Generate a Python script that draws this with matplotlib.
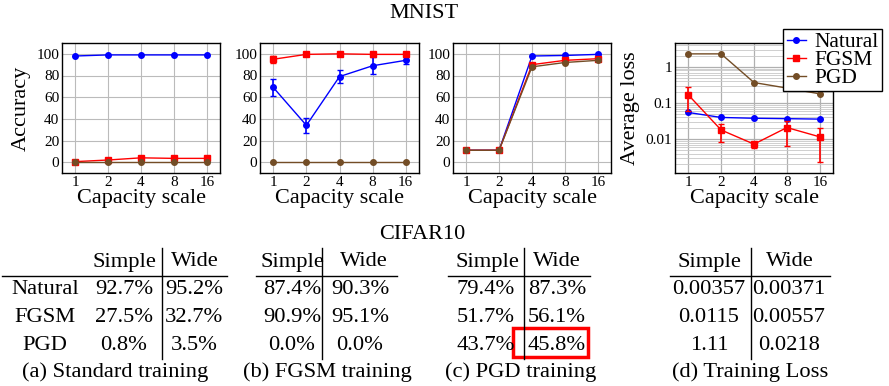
import numpy as np
import matplotlib
matplotlib.use("Agg")
import matplotlib.pyplot as plt
from matplotlib.lines import Line2D
from matplotlib.patches import Rectangle

plt.rcParams['font.family'] = ['Liberation Serif', 'DejaVu Serif']

W, H = 889, 386

# ---------------- data ----------------
capacity = [1, 2, 4, 8, 16]
series_names = ["Natural", "FGSM", "PGD"]

# (a) standard training accuracy
std_natural = [98, 99, 99, 99, 99]
std_fgsm = [0.5, 2, 4, 3.5, 3.5]
std_pgd = [0, 0, 0, 0, 0]

# (b) FGSM training accuracy
fgsm_natural = [69, 34, 79, 89, 94]
fgsm_natural_err = [8, 7, 6, 8, 3]
fgsm_fgsm = [95, 99.5, 100, 99.5, 99.5]
fgsm_fgsm_err = [3, 0.5, 0.5, 0.5, 0.5]
fgsm_pgd = [0, 0, 0, 0, 0]

# (c) PGD training accuracy
pgd_natural = [11, 11, 98, 98.5, 99.5]
pgd_fgsm = [11, 11, 90, 94, 95.5]
pgd_pgd = [11, 11, 88, 92, 94]

# (d) average loss
loss_natural = [0.055, 0.040, 0.038, 0.037, 0.036]
loss_fgsm = [0.17, 0.018, 0.0073, 0.021, 0.0116]
loss_fgsm_lo = [0.059, 0.0083, 0.0056, 0.0063, 0.0023]
loss_fgsm_hi = [0.28, 0.027, 0.0083, 0.031, 0.020]
loss_pgd = [2.3, 2.3, 0.37, 0.26, 0.18]

# CIFAR10 tables
table_cols = ["Simple", "Wide"]
table_rows = ["Natural", "FGSM", "PGD"]
tab_a = [["92.7%", "95.2%"], ["27.5%", "32.7%"], ["0.8%", "3.5%"]]
tab_b = [["87.4%", "90.3%"], ["90.9%", "95.1%"], ["0.0%", "0.0%"]]
tab_c = [["79.4%", "87.3%"], ["51.7%", "56.1%"], ["43.7%", "45.8%"]]
tab_d = [["0.00357", "0.00371"], ["0.0115", "0.00557"], ["1.11", "0.0218"]]
captions = ["(a) Standard training", "(b) FGSM training", "(c) PGD training", "(d) Training Loss"]

C_BLUE = "#0000ff"
C_RED = "#ff0000"
C_BROWN = "#734d26"

fig = plt.figure(figsize=(W / 100, H / 100), dpi=100)


def fx(x):
    return x / W


def fy(y):
    return 1 - y / H


def add_ax(l, t, r, b):
    return fig.add_axes([fx(l), fy(b), (r - l) / W, (b - t) / H])


xpos = np.arange(len(capacity))
LABFS = 16
TICKFS = 11


def style_ax(ax, log=False):
    ax.set_xlim(-0.4, 4.4)
    ax.set_xticks(xpos)
    ax.set_xticklabels([str(c) for c in capacity])
    ax.tick_params(length=0, labelsize=TICKFS, pad=2)
    for s in ax.spines.values():
        s.set_linewidth(1.0)
        s.set_color("black")
    ax.set_axisbelow(True)
    if log:
        ax.grid(True, which="major", color="#b0b0b0", lw=0.9)
        ax.grid(True, which="minor", color="#c8c8c8", lw=0.6)
    else:
        ax.grid(True, color="#bbbbbb", lw=0.8)
    ax.set_xlabel("Capacity scale", fontsize=LABFS, labelpad=0)


def acc_ax(ax):
    ax.set_ylim(-10, 110)
    ax.set_yticks([0, 20, 40, 60, 80, 100])


lw = 1.0
ms = 4

# plot (a)
ax1 = add_ax(62, 43, 220, 173)
style_ax(ax1)
acc_ax(ax1)
ax1.plot(xpos, std_natural, "-o", color=C_BLUE, lw=lw, ms=ms)
ax1.plot(xpos, std_fgsm, "-s", color=C_RED, lw=lw, ms=ms)
ax1.plot(xpos, std_pgd, "-o", color=C_BROWN, lw=lw, ms=ms)
ax1.set_ylabel("Accuracy", fontsize=LABFS, labelpad=4)

# plot (b)
ax2 = add_ax(260, 43, 419, 173)
style_ax(ax2)
acc_ax(ax2)
ax2.errorbar(xpos, fgsm_natural, yerr=fgsm_natural_err, fmt="-o", color=C_BLUE, lw=lw, ms=ms, capsize=2.5, elinewidth=1.2)
ax2.errorbar(xpos, fgsm_fgsm, yerr=fgsm_fgsm_err, fmt="-s", color=C_RED, lw=lw, ms=ms, capsize=2.5, elinewidth=1.2)
ax2.plot(xpos, fgsm_pgd, "-o", color=C_BROWN, lw=lw, ms=ms)

# plot (c)
ax3 = add_ax(453, 43, 611, 173)
style_ax(ax3)
acc_ax(ax3)
ax3.plot(xpos, pgd_natural, "-o", color=C_BLUE, lw=lw, ms=ms)
ax3.plot(xpos, pgd_fgsm, "-s", color=C_RED, lw=lw, ms=ms)
ax3.plot(xpos, pgd_pgd, "-o", color=C_BROWN, lw=lw, ms=ms)

# plot (d)
ax4 = add_ax(675, 43, 833, 173)
ax4.set_yscale("log")
ax4.set_ylim(0.00116, 4.6)
style_ax(ax4, log=True)
ax4.set_yticks([0.01, 0.1, 1])
ax4.set_yticklabels(["0.01", "0.1", "1"])
ax4.yaxis.set_minor_formatter(matplotlib.ticker.NullFormatter())
ax4.tick_params(which="minor", length=0)
ax4.plot(xpos, loss_natural, "-o", color=C_BLUE, lw=lw, ms=ms)
yerr = [np.array(loss_fgsm) - np.array(loss_fgsm_lo), np.array(loss_fgsm_hi) - np.array(loss_fgsm)]
ax4.errorbar(xpos, loss_fgsm, yerr=yerr, fmt="-s", color=C_RED, lw=lw, ms=ms, capsize=2.5, elinewidth=1.2)
ax4.plot(xpos, loss_pgd, "-o", color=C_BROWN, lw=lw, ms=ms)
ax4.set_ylabel("Average loss", fontsize=LABFS, labelpad=4)

leg_handles = [Line2D([], [], color=C_BLUE, marker="o", lw=lw, ms=ms),
               Line2D([], [], color=C_RED, marker="s", lw=lw, ms=ms),
               Line2D([], [], color=C_BROWN, marker="o", lw=lw, ms=ms)]
leg = fig.legend(leg_handles, series_names, loc="upper right",
                 bbox_to_anchor=(fx(882), fy(29)), fontsize=15.5, frameon=True,
                 fancybox=False, edgecolor="black", framealpha=1,
                 borderpad=0.15, labelspacing=-0.1, handlelength=0.9,
                 handletextpad=0.4, borderaxespad=0)
leg.get_frame().set_linewidth(1.0)

# titles
fig.text(fx(424), fy(13), "MNIST", ha="center", va="center", fontsize=16)
fig.text(fx(422), fy(234), "CIFAR10", ha="center", va="center", fontsize=16)

# tables
TFS = 16.2
row_y = [290, 318, 345]
head_y = 262
cap_y = 372


def hline(x0, x1, y, lw=1.0):
    fig.add_artist(Line2D([fx(x0), fx(x1)], [fy(y), fy(y)], color="black", lw=lw, transform=fig.transFigure))


def vline(x, y0, y1, lw=1.0):
    fig.add_artist(Line2D([fx(x), fx(x)], [fy(y0), fy(y1)], color="black", lw=lw, transform=fig.transFigure))


def txt(x, y, s, ha="center"):
    fig.text(fx(x), fy(y), s, ha=ha, va="center", fontsize=TFS)


def table(data, xv, col1c, col2c, h0, h1, caption, capx, with_rows=False, rowx=None):
    txt(col1c[0], head_y, table_cols[0])
    txt(col1c[1], head_y, table_cols[1])
    hline(h0, h1, 276)
    vline(xv, 248, 359)
    for i, r in enumerate(data):
        if with_rows:
            txt(rowx, row_y[i], table_rows[i])
        txt(col2c[0], row_y[i], r[0])
        txt(col2c[1], row_y[i], r[1])
    txt(capx, cap_y, caption)


table(tab_a, 162, (124, 195), (124, 194), 2, 227, captions[0], 115, with_rows=True, rowx=45)
table(tab_b, 322, (292, 364), (292, 360), 256, 397, captions[1], 327)
table(tab_c, 524, (487, 557), (486, 557), 448, 590, captions[2], 521)
table(tab_d, 751, (709, 790), (709, 789), 670, 830, captions[3], 750)

# red highlight box
fig.add_artist(Rectangle((fx(513), fy(357)), (588 - 513) / W, (357 - 328) / H,
                         fill=False, edgecolor="#ff0000", lw=2.5, transform=fig.transFigure))

fig.savefig("out.png", dpi=100)
